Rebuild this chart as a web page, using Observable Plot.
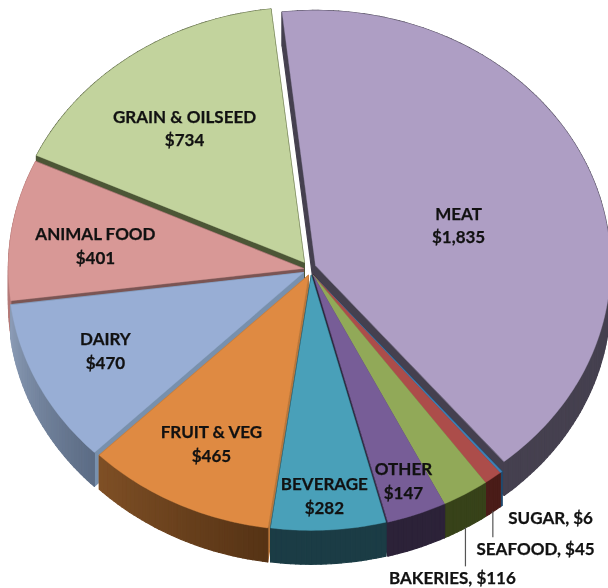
<!DOCTYPE html>
<html>
<head>
<meta charset="utf-8">
<script src="https://cdn.jsdelivr.net/npm/d3@7"></script>
<script src="https://cdn.jsdelivr.net/npm/@observablehq/plot@0.6"></script>
<style>
html,body{margin:0;padding:0;background:#fff;overflow:hidden}
svg{display:block;filter:blur(0.45px)}
</style>
</head>
<body>
<div id="chart"></div>
<script>
// ---- data ----
const categories = ["MEAT","SUGAR","SEAFOOD","BAKERIES","OTHER","BEVERAGE","FRUIT & VEG","DAIRY","ANIMAL FOOD","GRAIN & OILSEED"];
const values = [1835,6,45,116,147,282,465,470,401,734];

// ---- colours ----
const topColors  = ["#AE9EC4","#3F80B5","#AC4D4A","#91A958","#775D97","#49A0B9","#DF8A42","#98AED5","#D89896","#C2D39D"];
const edgeColors = ["#45404F","#1F4A6E","#6B2A27","#4A5A28","#2C2238","#1B3C45","#B8763A","#7890AD","#7A5554","#4C5636"];
const wallFrom   = ["#45404F","#1F4A6E","#4A1C18","#374219","#2C2238","#1B3C45","#7E4F25","#8A9BB5","#B47A78","#4C5636"];
const wallTo     = ["#45404F","#1F4A6E","#4A1C18","#374219","#2C2238","#1B3C45","#563315","#5C6C85","#B47A78","#4C5636"];

// ---- layout, in units of the pie's radius ----
const startAngle = -6.5;
const depth = 0.133;
const offsetX = [.017,.010,.010,.010,.010,.003,-.007,-.024,-.024,-.021];
const offsetY = [.012,-.027,-.027,-.027,-.027,-.027,-.027,-.016,.000,.024];
const labelNames = ["MEAT\n$1,835","SUGAR, $6","SEAFOOD, $45","BAKERIES, $116","OTHER\n$147","BEVERAGE\n$282","FRUIT & VEG\n$465","DAIRY\n$470","ANIMAL FOOD\n$401","GRAIN & OILSEED\n$734"];
const labelX = [.502,.814,.763,.481,.315,.047,-.336,-.695,-.729,-.427];
const labelY = [.175,-.974,-1.096,-1.206,-.827,-.886,-.682,-.317,.094,.555];
const leaderLength = [0,0,.102,.153,0,0,0,0,0,0];
// side walls are painted back to front, by index into categories
const wallOrder = [0,9,8,7,6,1,2,3,4,5];

// ---- geometry derived from the values ----
const total = d3.sum(values);
const rad = d => d * Math.PI / 180;
let running = startAngle;
const slices = categories.map((name,i) => {
  const a0 = running, a1 = running + values[i] / total * 360;
  running = a1;
  return {name,i,a0,a1,cx:offsetX[i],cy:offsetY[i]};
});
const onArc = (s,a,drop=0) => ({x:s.cx + Math.sin(rad(a)), y:s.cy + Math.cos(rad(a)) - drop});
const arcAngles = s => {
  const n = Math.max(2, Math.ceil((s.a1 - s.a0) / 1));
  return d3.range(n + 1).map(k => s.a0 + (s.a1 - s.a0) * k / n);
};

const tops = slices.flatMap(s => [
  {x:s.cx,y:s.cy},
  ...arcAngles(s).map(a => onArc(s,a))
].map(p => ({...p,id:s.name,color:topColors[s.i]})));

const walls = [];
let wid = 0;
const pushQuad = (pts,color) => { wid++; pts.forEach(p => walls.push({...p,id:wid,color})); };
for (const s of wallOrder.map(i => slices[i])) {
  const apex = {x:s.cx,y:s.cy}, apexLow = {x:s.cx,y:s.cy-depth};
  pushQuad([apex,onArc(s,s.a0),onArc(s,s.a0,depth),apexLow],edgeColors[s.i]);
  pushQuad([apex,onArc(s,s.a1),onArc(s,s.a1,depth),apexLow],edgeColors[s.i]);
  const angles = arcAngles(s), mix = d3.interpolateRgb(wallFrom[s.i],wallTo[s.i]);
  for (let k = 0; k < angles.length - 1; k++) {
    // the shade runs from the left end of the arc to the right end
    const t = (angles.length - 2 - k) / Math.max(1, angles.length - 2);
    pushQuad([onArc(s,angles[k]),onArc(s,angles[k+1]),onArc(s,angles[k+1],depth),onArc(s,angles[k],depth)],
      d3.rgb(mix(t)).formatHex());
  }
}

const labels = labelNames.map((text,i) => ({text,x:labelX[i],y:labelY[i]}));
const leaders = slices.filter(s => leaderLength[s.i] > 0).map(s => {
  const mid = onArc(s,(s.a0+s.a1)/2,depth);
  return {x:mid.x,y1:mid.y,y2:mid.y-leaderLength[s.i]};
});

const chart = Plot.plot({
  width:608,height:588,margin:0,
  style:{background:"#fff"},
  x:{axis:null,domain:[-310/295,298/295],range:[0,608]},
  y:{axis:null,domain:[(268-588)/255,268/255],range:[588,0]},
  color:{type:"identity"},
  marks:[
    Plot.line(walls,{x:"x",y:"y",z:"id",fill:"color",stroke:"color",strokeWidth:1.2,curve:"linear-closed"}),
    Plot.line(tops,{x:"x",y:"y",z:"id",fill:"color",stroke:"color",strokeWidth:.4,curve:"linear-closed"}),
    Plot.ruleX(leaders,{x:"x",y1:"y1",y2:"y2",stroke:"#555",strokeWidth:1.2}),
    Plot.text(labels,{x:"x",y:"y",text:"text",fontFamily:"Lato",fontWeight:700,fontSize:17,lineHeight:1.38,fill:"#111",stroke:"#111",strokeWidth:.25,textAnchor:"middle",lineAnchor:"middle"})
  ]
});
document.getElementById("chart").appendChild(chart);
</script>
</body>
</html>
